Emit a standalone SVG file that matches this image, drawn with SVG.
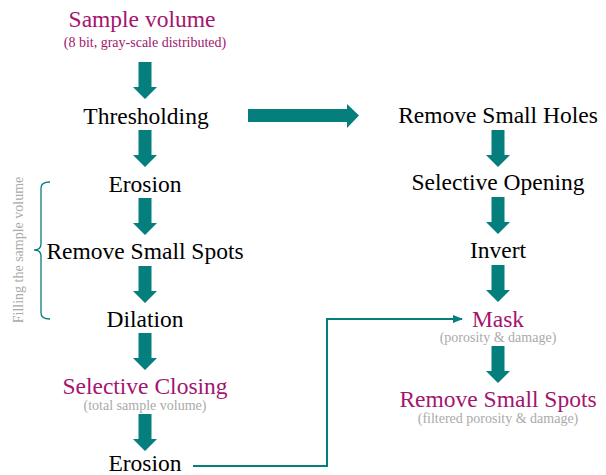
<svg xmlns="http://www.w3.org/2000/svg" xmlns:xlink="http://www.w3.org/1999/xlink" width="606" height="475" viewBox="0 0 606 475">
<style>
text{font-family:"Liberation Serif","Times New Roman",serif;text-anchor:middle}
.m{font-size:23.5px;fill:#000}
.p{font-size:23.5px;fill:#a3156f}
.sp{font-size:14px;fill:#a3156f}
.sg{font-size:14px;fill:#aaaaaa}
.arr{fill:#057e7e}
</style>
<defs>
<path id="dn" class="arr" d="M-6.5,0 H6.5 V25 H12 L0,37 L-12,25 H-6.5 Z"/>
<marker id="ah" markerWidth="10" markerHeight="8" refX="9" refY="4" orient="auto" markerUnits="userSpaceOnUse">
<path d="M0,0 L10,4 L0,8 Z" fill="#057e7e"/>
</marker>
</defs>
<rect width="606" height="475" fill="#fff"/>
<g id="connectors">
<use xlink:href="#dn" x="145" y="62"/>
<use xlink:href="#dn" x="145" y="130"/>
<use xlink:href="#dn" x="145" y="198"/>
<use xlink:href="#dn" x="145" y="266"/>
<use xlink:href="#dn" x="145" y="333"/>
<use xlink:href="#dn" x="145" y="414"/>
<use xlink:href="#dn" x="498" y="130"/>
<use xlink:href="#dn" x="498" y="197"/>
<use xlink:href="#dn" x="498" y="265"/>
<use xlink:href="#dn" x="498" y="346"/>
<polygon class="arr" points="248,109 347,109 347,104 359,115.5 347,128 347,122 248,122"/>
<polyline points="193,466 327,466 327,319 462,319" fill="none" stroke="#057e7e" stroke-width="2" marker-end="url(#ah)"/>
</g>
<g id="bracket">
<path d="M50,182 Q41,182 41,188 V244 Q41,250 34,250 Q41,250 41,256 V313 Q41,319 50,319" fill="none" stroke="#057e7e" stroke-width="1.3"/>
<text class="sg" transform="translate(23,250) rotate(-90)">Filling the sample volume</text>
</g>
<g id="sample-volume"><text class="p" x="142" y="27">Sample volume</text><text class="sp" x="145" y="47">(8 bit, gray-scale distributed)</text></g>
<g id="thresholding"><text class="m" x="146" y="124">Thresholding</text></g>
<g id="erosion1"><text class="m" x="145" y="192">Erosion</text></g>
<g id="remove-small-spots1"><text class="m" x="145" y="259">Remove Small Spots</text></g>
<g id="dilation"><text class="m" x="145" y="327">Dilation</text></g>
<g id="selective-closing"><text class="p" x="145" y="394">Selective Closing</text><text class="sg" x="145" y="410">(total sample volume)</text></g>
<g id="erosion2"><text class="m" x="145" y="471">Erosion</text></g>
<g id="remove-small-holes"><text class="m" x="498" y="123">Remove Small Holes</text></g>
<g id="selective-opening"><text class="m" x="498" y="190">Selective Opening</text></g>
<g id="invert"><text class="m" x="498" y="258">Invert</text></g>
<g id="mask"><text class="p" x="498" y="327">Mask</text><text class="sg" x="498" y="342">(porosity &amp; damage)</text></g>
<g id="remove-small-spots2"><text class="p" x="498" y="407">Remove Small Spots</text><text class="sg" x="498" y="423">(filtered porosity &amp; damage)</text></g>
</svg>
